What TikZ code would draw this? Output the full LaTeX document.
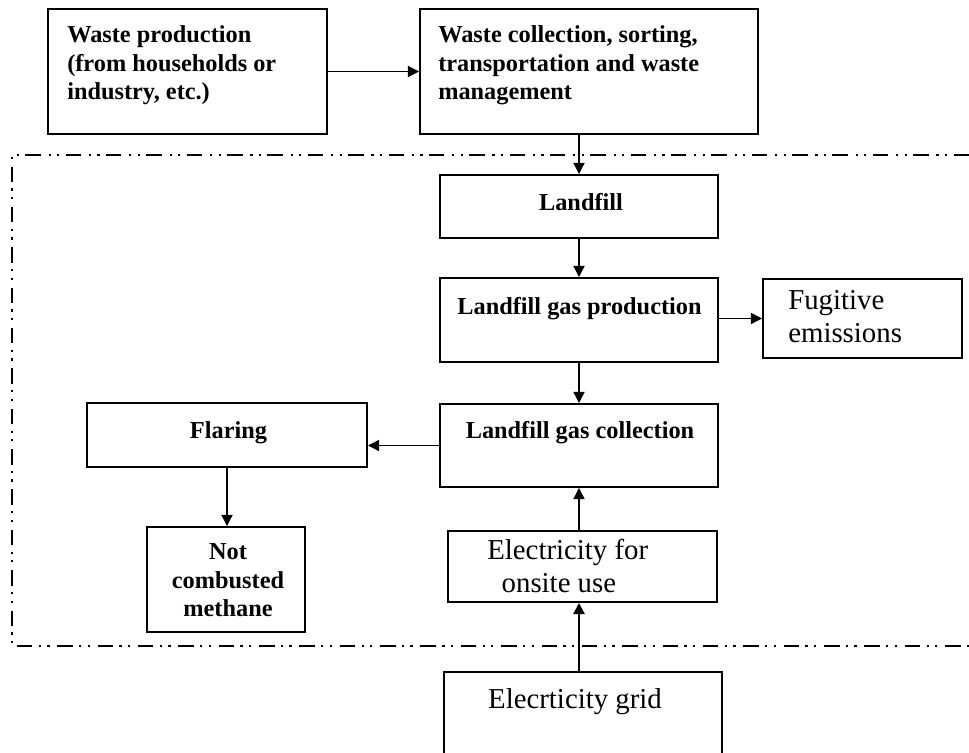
\documentclass[tikz,border=0pt]{standalone}
\usepackage{fontspec}
\setmainfont{Liberation Serif}
\usetikzlibrary{arrows.meta, calc}

\begin{document}
\begin{tikzpicture}[
    x=0.025cm, y=-0.025cm,
    box/.style={rectangle, draw, line width=1.4pt, inner sep=0pt},
    sized/.style 2 args={minimum width=#1*0.025cm, minimum height=#2*0.025cm},
    arrow/.style={-{Triangle[length=2.8mm, width=2.8mm]}, line width=1pt},
    boldtext/.style={inner sep=0pt, font=\fontsize{17.3}{20.6}\selectfont\bfseries},
    plaintext/.style={inner sep=0pt, font=\fontsize{20.5}{23.5}\selectfont},
    boundary/.style={line width=1.6pt, dash pattern=on 11pt off 4.5pt on 1.6pt off 4.5pt on 1.6pt off 5.5pt}
]
\clip (0,0) rectangle (969,753);
\fill[white] (0,0) rectangle (969,753);

% System boundary (open to the right)
\draw[boundary] (969,155) -- (12,155) -- (12,646) -- (969,646);

% Upstream boxes
\node[box, sized={279}{125}] (wprod) at (187.5,71.5) {};
\node[box, sized={338}{125}] (wcoll) at (589,71.5) {};
\node[boldtext, anchor=base west, align=left] (wprod-txt) at (67,100)
    {Waste production\\(from households or\\industry, etc.)};
\node[boldtext, anchor=base west, align=left] (wcoll-txt) at (438,100)
    {Waste collection, sorting,\\transportation and waste\\management};

% Landfill chain
\node[box, sized={278}{63}] (landfill) at (579,206.5) {};
\node[box, sized={278}{84}] (lgp) at (579,320) {};
\node[box, sized={278}{83}] (lgc) at (579,445.5) {};
\node[boldtext, anchor=base] (landfill-txt) at (581,211) {Landfill};
\node[boldtext, anchor=base] (lgp-txt) at (579.5,315) {Landfill gas production};
\node[boldtext, anchor=base] (lgc-txt) at (580,439) {Landfill gas collection};

% Side branches
\node[box, sized={199}{79}] (fugitive) at (862.5,318.5) {};
\node[plaintext, anchor=base west, align=left] (fugitive-txt) at (788,343)
    {Fugitive\\emissions};
\node[box, sized={280}{64}] (flaring) at (227,435) {};
\node[boldtext, anchor=base] (flaring-txt) at (228.5,439) {Flaring};
\node[box, sized={158}{105}] (ncm) at (226,579.5) {};
\node[boldtext, anchor=base, align=center, font=\fontsize{17.3}{20.3}\selectfont\bfseries]
    (ncm-txt) at (228,617) {Not\\combusted\\methane};

% Electricity
\node[box, sized={269}{71}] (eou) at (582.5,566.5) {};
\node[plaintext, anchor=base west, align=left] (eou-txt) at (487,593)
    {Electricity for\\\hspace*{0.36cm}onsite use};
\node[box, sized={278}{100}] (grid) at (583,722) {};
\node[plaintext, anchor=base] (grid-txt) at (575,709) {Elecrticity grid};

% Connectors
\draw[arrow] (wprod.east) -- (wcoll.west);
\draw[arrow] (landfill.north |- wcoll.south) -- (landfill.north);
\draw[arrow] (landfill.south) -- (lgp.north);
\draw[arrow] (lgp.east |- fugitive.west) -- (fugitive.west);
\draw[arrow] (lgp.south) -- (lgc.north);
\draw[arrow] (lgc.west) -- (lgc.west -| flaring.east);
\draw[arrow] (flaring.south) -- (flaring.south |- ncm.north);
\draw[arrow] (eou.north -| lgc.south) -- (lgc.south);
\draw[arrow, line width=1.6pt] (grid.north -| lgc.south) -- (eou.south -| lgc.south);

\end{tikzpicture}
\end{document}
